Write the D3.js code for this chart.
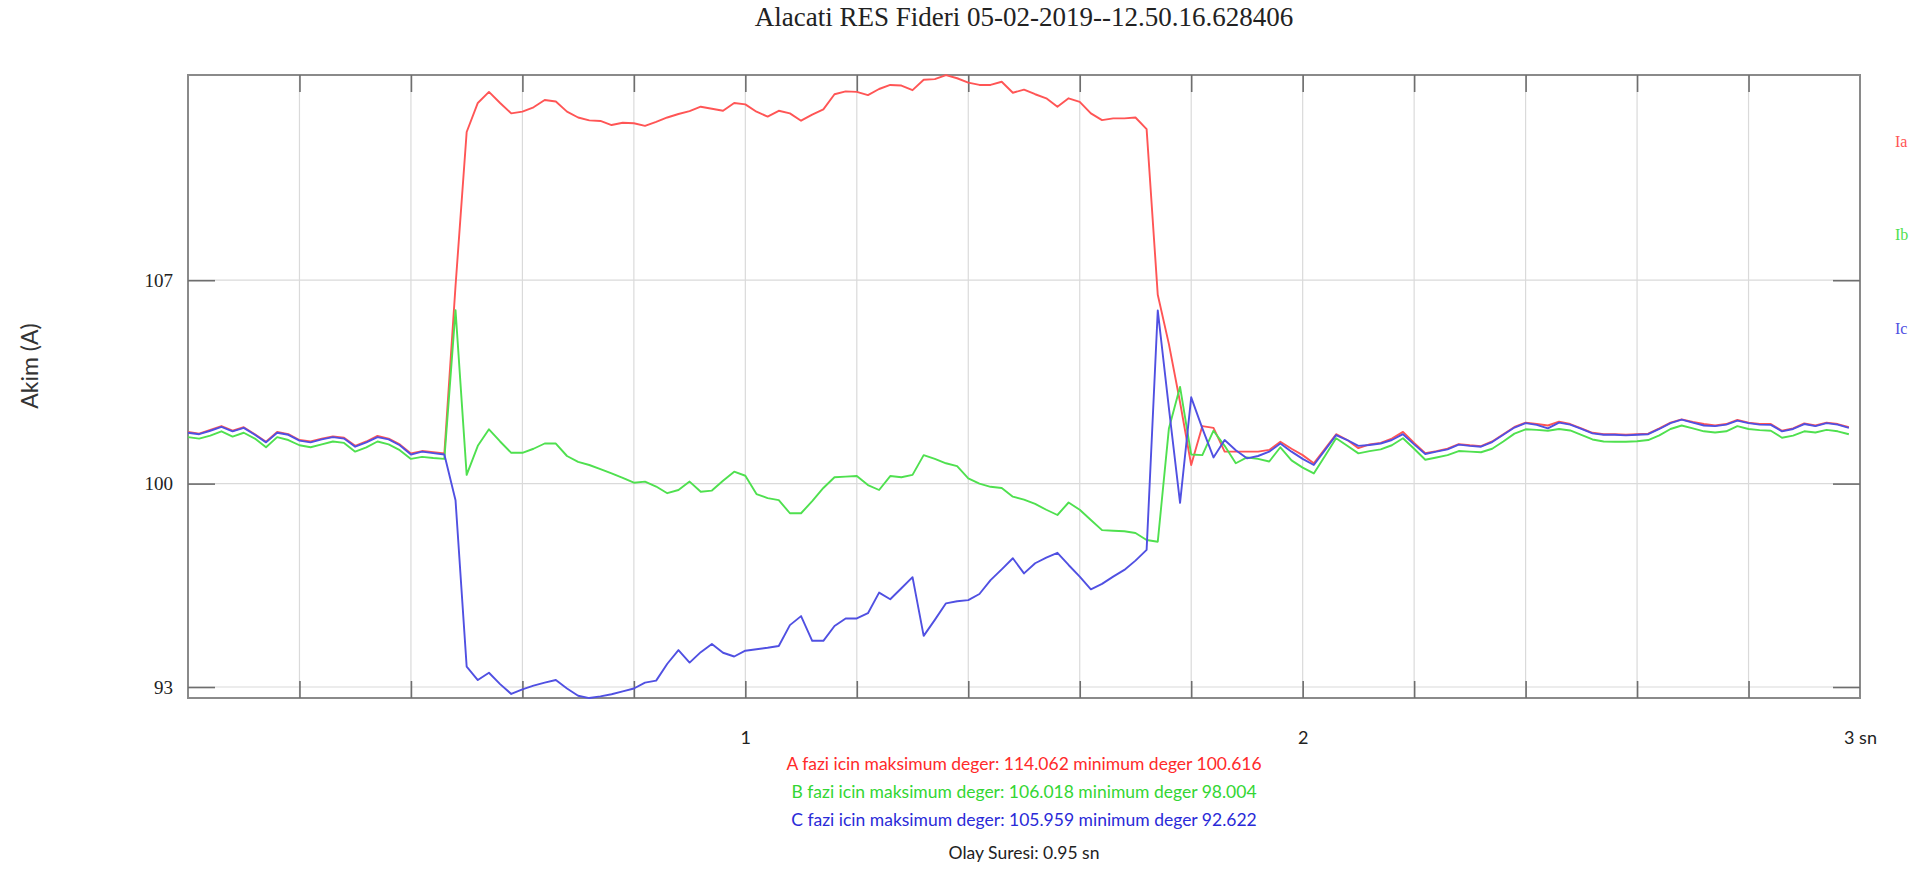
<!DOCTYPE html>
<html>
<head>
<meta charset="utf-8">
<script src="https://cdn.jsdelivr.net/npm/d3@7"></script>
<style>
  html, body { margin: 0; padding: 0; background: #fff; }
  svg { display: block; }
</style>
</head>
<body>
<svg id="chart" width="1916" height="869"></svg>
<script>
// ---- data ----
const title = "Alacati RES Fideri 05-02-2019--12.50.16.628406";
const yTitle = "Akim (A)";
const sampleStep = 0.02; // seconds between samples
const yTickValues = [93, 100, 107];
const yTickLabels = ["93", "100", "107"];
const xTickValues = [1, 2, 3];
const xTickLabels = ["1", "2", "3 sn"];
const seriesNames = ["Ia", "Ib", "Ic"];
const infoLines = [
  "A fazi icin maksimum deger: 114.062 minimum deger 100.616",
  "B fazi icin maksimum deger: 106.018 minimum deger 98.004",
  "C fazi icin maksimum deger: 105.959 minimum deger 92.622",
  "Olay Suresi: 0.95 sn"
];
const yMin = 92.622, yMax = 114.062;

const phaseA = [
  101.78,101.72,101.85,101.98,101.82,101.94,101.70,101.44,101.78,101.70,
  101.50,101.45,101.55,101.62,101.58,101.30,101.45,101.64,101.55,101.35,
  101.04,101.12,101.08,101.04,106.80,112.10,113.10,113.48,113.10,112.74,
  112.80,112.95,113.20,113.15,112.80,112.60,112.50,112.48,112.34,112.42,
  112.40,112.31,112.45,112.60,112.72,112.82,112.97,112.90,112.83,113.10,
  113.05,112.80,112.63,112.83,112.74,112.49,112.70,112.88,113.40,113.50,
  113.48,113.37,113.58,113.72,113.70,113.54,113.90,113.92,114.06,113.95,
  113.80,113.72,113.72,113.83,113.45,113.56,113.40,113.26,112.97,113.26,
  113.14,112.74,112.51,112.57,112.57,112.60,112.20,106.50,104.80,102.80,
  100.64,101.98,101.92,101.10,101.10,101.10,101.10,101.16,101.44,101.20,
  100.98,100.70,101.20,101.70,101.50,101.22,
  101.35,101.40,101.55,101.78,101.40,101.05,101.12,101.20,101.36,101.32,
  101.29,101.45,101.70,101.95,102.10,102.05,102.00,102.13,102.05,101.90,
  101.75,101.70,101.70,101.68,101.70,101.72,101.90,102.10,102.21,102.12,
  102.05,102.00,102.05,102.19,102.10,102.05,102.05,101.82,101.90,102.07,
  102.00,102.10,102.05,101.94
];
const phaseB = [
  101.60,101.55,101.65,101.80,101.62,101.75,101.55,101.25,101.60,101.50,
  101.32,101.25,101.35,101.45,101.40,101.10,101.25,101.45,101.35,101.15,
  100.85,100.92,100.88,100.85,105.97,100.30,101.30,101.87,101.45,101.06,
  101.06,101.20,101.38,101.38,100.95,100.75,100.64,100.50,100.35,100.20,
  100.03,100.07,99.90,99.67,99.78,100.07,99.72,99.76,100.10,100.41,
  100.27,99.64,99.50,99.43,98.98,98.98,99.40,99.85,100.22,100.24,
  100.26,99.95,99.78,100.26,100.22,100.30,100.98,100.85,100.70,100.60,
  100.18,100.00,99.89,99.85,99.55,99.45,99.30,99.10,98.92,99.35,
  99.10,98.75,98.40,98.38,98.36,98.30,98.06,98.00,101.90,103.33,
  101.00,100.98,101.82,101.30,100.70,100.90,100.85,100.76,101.25,100.80,
  100.55,100.35,100.95,101.56,101.30,101.04,
  101.12,101.18,101.32,101.56,101.20,100.82,100.90,100.98,101.12,101.10,
  101.08,101.20,101.45,101.72,101.87,101.85,101.82,101.88,101.83,101.68,
  101.52,101.45,101.44,101.44,101.46,101.50,101.66,101.88,102.00,101.90,
  101.80,101.76,101.80,101.98,101.88,101.84,101.82,101.58,101.65,101.80,
  101.76,101.85,101.80,101.70
];
const phaseC = [
  101.75,101.70,101.82,101.95,101.80,101.92,101.68,101.42,101.75,101.68,
  101.48,101.42,101.52,101.60,101.55,101.27,101.42,101.60,101.52,101.32,
  101.00,101.10,101.05,101.00,99.43,93.70,93.24,93.49,93.10,92.76,
  92.92,93.05,93.15,93.24,92.95,92.70,92.62,92.68,92.75,92.85,
  92.95,93.15,93.22,93.80,94.27,93.84,94.20,94.48,94.18,94.05,
  94.25,94.30,94.35,94.41,95.13,95.44,94.59,94.59,95.10,95.36,
  95.36,95.54,96.25,96.02,96.40,96.78,94.76,95.31,95.88,95.95,
  95.99,96.20,96.68,97.05,97.43,96.91,97.26,97.45,97.62,97.20,
  96.80,96.36,96.55,96.80,97.03,97.35,97.72,105.96,102.60,99.34,
  102.97,101.90,100.90,101.50,101.15,100.87,100.95,101.10,101.38,101.10,
  100.85,100.64,101.15,101.67,101.50,101.30,
  101.33,101.38,101.50,101.70,101.35,101.02,101.10,101.18,101.34,101.30,
  101.27,101.43,101.68,101.93,102.08,102.02,101.90,102.10,102.03,101.88,
  101.73,101.68,101.68,101.66,101.68,101.70,101.88,102.08,102.20,102.10,
  102.00,101.98,102.03,102.17,102.08,102.03,102.02,101.80,101.88,102.05,
  101.98,102.08,102.03,101.92
];

// ---- styles ----
const lineColors = ["#ff5555", "#4fe04f", "#5050e2"];
const textColors = ["#ff2a2a", "#33d633", "#2a2ad8"];

const svg = d3.select("#chart");
const W = 1916, H = 869;
const padL = 188, padR = 1860, padT = 75, padB = 698;

svg.append("rect").attr("width", W).attr("height", H).attr("fill", "#fff");

const x = d3.scaleLinear().domain([0, 3]).range([padL, padR]);
const y = d3.scaleLinear().domain([yMin, yMax]).range([padB, padT]);

const gridX = d3.range(1, 15).map(i => i * 0.2);

// gridlines
const grid = svg.append("g");
grid.selectAll("line.gx").data(gridX).enter().append("line")
  .attr("x1", d => x(d)).attr("x2", d => x(d))
  .attr("y1", padT).attr("y2", padB)
  .attr("stroke", "#dadada").attr("stroke-width", 1.2);
grid.selectAll("line.gy").data(yTickValues).enter().append("line")
  .attr("x1", padL).attr("x2", padR)
  .attr("y1", d => y(d)).attr("y2", d => y(d))
  .attr("stroke", "#dadada").attr("stroke-width", 1.2);

// frame
svg.append("rect").attr("x", padL).attr("y", padT)
  .attr("width", padR - padL).attr("height", padB - padT)
  .attr("fill", "none").attr("stroke", "#8a8a8a").attr("stroke-width", 2);

// axes (ticks inward)
function styleAxis(g) {
  g.select(".domain").remove();
  g.selectAll(".tick line").attr("stroke", "#6e6e6e").attr("stroke-width", 1.6);
}
svg.append("g").attr("transform", `translate(${padL},0)`)
  .call(d3.axisLeft(y).tickValues(yTickValues)
    .tickFormat((d, i) => yTickLabels[i]).tickSizeInner(-27).tickSizeOuter(0).tickPadding(15))
  .call(styleAxis)
  .call(g => g.selectAll("text").attr("font-family", "Liberation Serif, serif")
    .attr("font-size", 19).attr("fill", "#222"));
svg.append("g").attr("transform", `translate(${padR},0)`)
  .call(d3.axisRight(y).tickValues(yTickValues).tickFormat("").tickSizeInner(-27).tickSizeOuter(0))
  .call(styleAxis);
svg.append("g").attr("transform", `translate(0,${padT})`)
  .call(d3.axisTop(x).tickValues(gridX).tickFormat("").tickSizeInner(-17).tickSizeOuter(0))
  .call(styleAxis);
svg.append("g").attr("transform", `translate(0,${padB})`)
  .call(d3.axisBottom(x).tickValues(gridX).tickFormat("").tickSizeInner(-17).tickSizeOuter(0))
  .call(styleAxis);
svg.append("g").attr("transform", `translate(0,${padB})`)
  .call(d3.axisBottom(x).tickValues(xTickValues)
    .tickFormat((d, i) => xTickLabels[i]).tickSize(0).tickPadding(33))
  .call(g => g.select(".domain").remove())
  .call(g => g.selectAll("text").attr("font-family", "Lato, sans-serif")
    .attr("font-size", 18).attr("fill", "#222"));

// lines
const series = [phaseA, phaseB, phaseC];
const line = d3.line().x((d, i) => x(i * sampleStep)).y(d => y(d));
svg.append("g").selectAll("path").data(series).enter().append("path")
  .attr("d", d => line(d))
  .attr("fill", "none")
  .attr("stroke", (d, i) => lineColors[i])
  .attr("stroke-width", 1.9)
  .attr("stroke-linejoin", "round");

// title
svg.append("text").attr("x", (padL + padR) / 2).attr("y", 26)
  .attr("text-anchor", "middle")
  .attr("font-family", "Liberation Serif, serif").attr("font-size", 27)
  .attr("fill", "#222").text(title);

// y title
svg.append("text").attr("transform", "translate(38,366) rotate(-90)")
  .attr("text-anchor", "middle")
  .attr("font-family", "Lato, sans-serif").attr("font-size", 23)
  .attr("fill", "#333").text(yTitle);

// legend labels on the right
const legendY = [141, 234, 328];
svg.append("g").selectAll("text").data(seriesNames).enter().append("text")
  .attr("x", 1895).attr("y", (d, i) => legendY[i] + 6)
  .attr("font-family", "Liberation Serif, serif").attr("font-size", 16)
  .attr("fill", (d, i) => lineColors[i]).text(d => d);

// info lines
const infoY = [770, 798, 826, 859];
svg.append("g").selectAll("text").data(infoLines).enter().append("text")
  .attr("x", (padL + padR) / 2).attr("y", (d, i) => infoY[i])
  .attr("text-anchor", "middle")
  .attr("font-family", "Lato, sans-serif").attr("font-size", 17.5)
  .attr("fill", (d, i) => i < 3 ? textColors[i] : "#222")
  .text(d => d);
</script>
</body>
</html>
